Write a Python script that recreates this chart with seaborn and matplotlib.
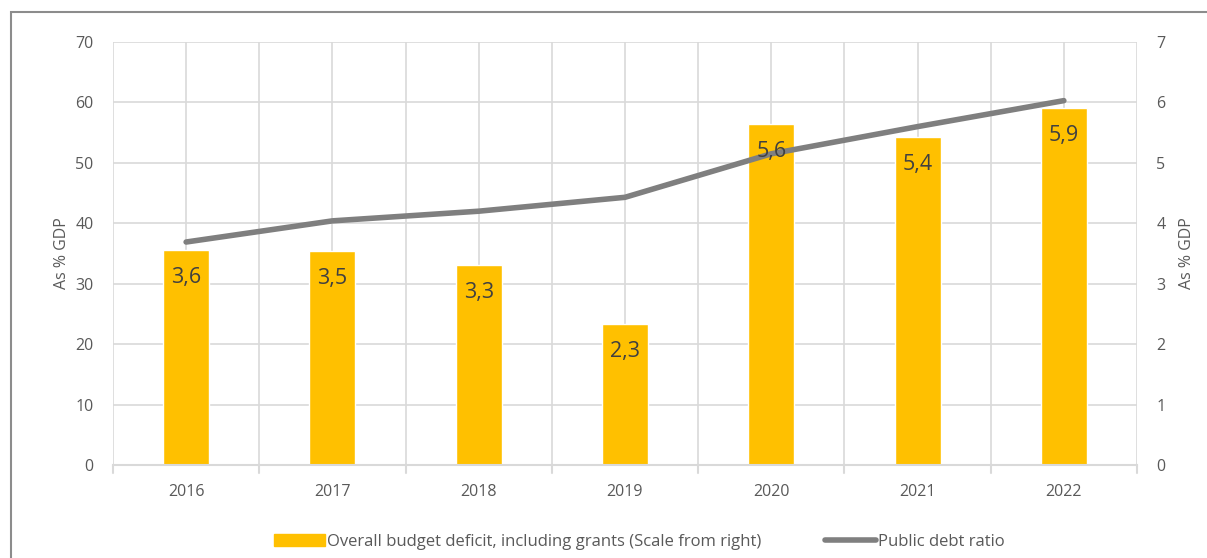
import numpy as np
import pandas as pd
import matplotlib
matplotlib.use("Agg")
import matplotlib.pyplot as plt
import seaborn as sns
from matplotlib.patches import Patch, Rectangle
from matplotlib.lines import Line2D

# Data
years = ["2016", "2017", "2018", "2019", "2020", "2021", "2022"]
deficit = [3.55, 3.54, 3.31, 2.33, 5.64, 5.42, 5.91]          # right axis
deficit_labels = ["3,6", "3,5", "3,3", "2,3", "5,6", "5,4", "5,9"]
debt_ratio = [36.9, 40.4, 42.0, 44.3, 51.5, 56.0, 60.3]       # left axis

sns.set_theme(style="white")
plt.rcParams["font.family"] = ["Open Sans", "DejaVu Sans"]

TXT = "#595959"
GRID = "#D9D9D9"
YELLOW = "#FFC000"
LINE = "#7F7F7F"

df = pd.DataFrame({"year": years, "deficit": deficit, "debt": debt_ratio})
df["pos"] = np.arange(len(years))

fig = plt.figure(figsize=(12.07, 5.58), dpi=100)
fig.patch.set_facecolor("white")
ax = fig.add_axes([0.0936, 0.1667, 0.8484, 0.758])
ax2 = ax.twinx()

# bars on the right scale
sns.barplot(data=df, x="year", y="deficit", color=YELLOW, width=0.315,
            saturation=1, ax=ax2, zorder=2)
ax2.set_ylim(0, 7)
ax2.set_yticks(range(0, 8))

# gridlines drawn on the lower axes
for v in range(1, 8):
    ax2.axhline(v, color=GRID, lw=1.2, zorder=0)
for xv in np.arange(-0.5, 7.0, 0.5):
    ax2.axvline(xv, color=GRID, lw=1.2, zorder=0)

# line on the left scale, above the bars
ax.set_zorder(ax2.get_zorder() + 1)
ax.patch.set_visible(False)
sns.lineplot(data=df, x="pos", y="debt", color=LINE, lw=4, ax=ax,
             solid_capstyle="round")
ax.set_ylim(0, 70)
ax.set_yticks(range(0, 80, 10))
ax.set_xlim(-0.5, 6.5)
ax2.set_xlim(-0.5, 6.5)
ax.set_xticks(range(len(years)))
ax.set_xticklabels(years)

# bar labels
for i, (v, lab) in enumerate(zip(deficit, deficit_labels)):
    ax.text(i, v - 0.45, lab, transform=ax2.transData, ha="center",
            va="center", fontsize=15.5, color="#404040", zorder=5)

for a in (ax, ax2):
    for s in a.spines.values():
        s.set_visible(False)
    a.tick_params(axis="y", length=0, labelsize=11.5, labelcolor=TXT, pad=14)
    a.set_xlabel("")
ax.spines["bottom"].set_visible(True)
ax.spines["bottom"].set_color(GRID)
ax.spines["bottom"].set_linewidth(1.5)
ax.tick_params(axis="x", length=0, labelsize=11.5, labelcolor=TXT, pad=14)
ax2.tick_params(axis="x", bottom=False, labelbottom=False)
for xv in np.arange(-0.5, 7.0, 1.0):
    ax.plot([xv, xv], [-0.018, 0], transform=ax.get_xaxis_transform(),
            color=GRID, lw=1.5, clip_on=False)

ax.set_ylabel("As % GDP", fontsize=11.5, color=TXT, labelpad=4)
ax2.set_ylabel("As % GDP", fontsize=11.5, color=TXT, labelpad=10)

handles = [Patch(facecolor=YELLOW, edgecolor=YELLOW),
           Line2D([0], [0], color=LINE, lw=4, solid_capstyle="round")]
labels = ["Overall budget deficit, including grants (Scale from right)",
          "Public debt ratio"]
fig.legend(handles, labels, loc="center", bbox_to_anchor=(0.5295, 0.029),
           ncol=2, frameon=False, fontsize=12, labelcolor=TXT,
           handlelength=3.1, handleheight=0.7, handletextpad=0.1,
           columnspacing=3.8)

# outer chart frame
fig.patches.append(Rectangle((11 / 1207, -0.05), 1.2, 0.05 + (558 - 12) / 558,
                             transform=fig.transFigure, fill=False,
                             edgecolor="#8C8C8C", lw=1.5))

fig.savefig("out.png", dpi=100)
